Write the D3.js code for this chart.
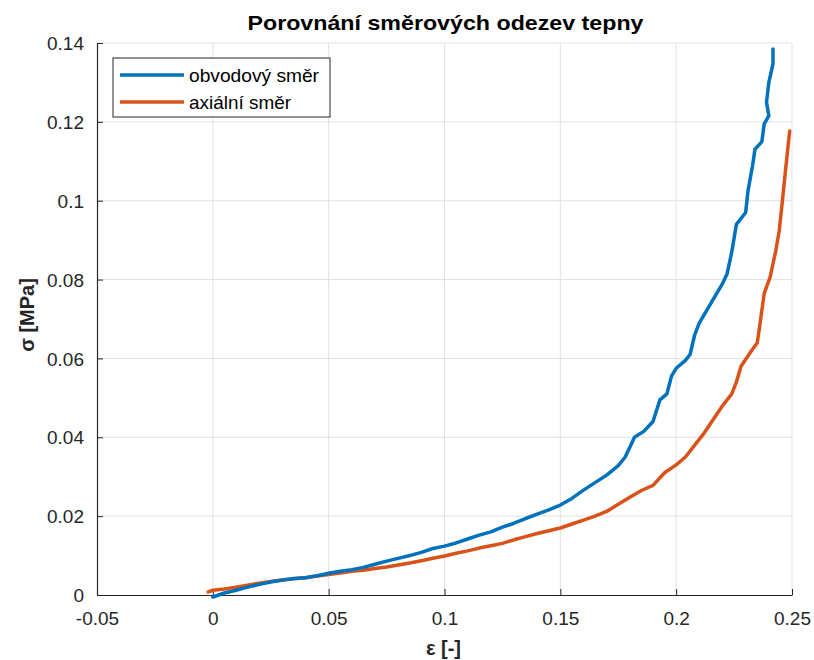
<!DOCTYPE html>
<html><head><meta charset="utf-8">
<script src="https://cdn.jsdelivr.net/npm/d3@7"></script>
<style>
body{margin:0;background:#fff;}
text{font-family:"Liberation Sans",Arial,Helvetica,sans-serif;}
</style></head>
<body>
<svg id="chart" width="814" height="660"></svg>
<script>
const seriesNames = ["obvodový směr", "axiální směr"];
const seriesColors = ["#0072BD", "#D95319"];
const xTicks = [-0.05, 0, 0.05, 0.1, 0.15, 0.2, 0.25];
const yTicks = [0, 0.02, 0.04, 0.06, 0.08, 0.1, 0.12, 0.14];

// obvodový směr (circumferential) : [strain, stress MPa]
const strainCirc = [0,0.005,0.01,0.015,0.02,0.025,0.03,0.035,0.04,0.045,0.05,0.055,0.06,0.065,0.07,0.075,0.08,0.085,0.09,0.095,0.1,0.105,0.11,0.115,0.12,0.125,0.13,0.135,0.14,0.145,0.15,0.155,0.16,0.165,0.17,0.175,0.178,0.18,0.182,0.186,0.19,0.193,0.196,0.198,0.2,0.204,0.206,0.208,0.21,0.213,0.217,0.22,0.222,0.224,0.226,0.23,0.231,0.233,0.234,0.237,0.238,0.24,0.239,0.24,0.2418,0.2418];
const stressCirc = [-0.0005,0.0005,0.0012,0.002,0.0027,0.0033,0.0038,0.0042,0.0044,0.0049,0.0055,0.006,0.0064,0.007,0.0078,0.0086,0.0093,0.01,0.0108,0.0118,0.0124,0.0132,0.0142,0.0152,0.016,0.0172,0.0182,0.0194,0.0205,0.0216,0.0228,0.0245,0.0266,0.0285,0.0304,0.0328,0.035,0.0375,0.04,0.0415,0.044,0.0495,0.051,0.0555,0.0575,0.0595,0.061,0.066,0.069,0.072,0.076,0.079,0.0815,0.087,0.094,0.097,0.1025,0.109,0.113,0.115,0.1195,0.1215,0.125,0.13,0.1347,0.1385];

// axiální směr (axial)
const strainAx = [-0.002,0,0.005,0.01,0.015,0.02,0.025,0.03,0.035,0.04,0.045,0.05,0.055,0.06,0.065,0.07,0.075,0.08,0.085,0.09,0.095,0.1,0.105,0.11,0.115,0.12,0.125,0.13,0.135,0.14,0.145,0.15,0.155,0.16,0.165,0.17,0.175,0.18,0.185,0.19,0.195,0.2,0.204,0.208,0.212,0.216,0.22,0.224,0.226,0.228,0.232,0.235,0.236,0.238,0.2405,0.243,0.2445,0.246,0.2475,0.249];
const stressAx = [0.0008,0.0012,0.0015,0.002,0.0025,0.003,0.0034,0.0038,0.0041,0.0044,0.0048,0.0052,0.0056,0.006,0.0063,0.0067,0.0071,0.0076,0.0081,0.0087,0.0093,0.0099,0.0106,0.0112,0.0119,0.0125,0.0131,0.014,0.0148,0.0156,0.0163,0.017,0.018,0.019,0.02,0.0212,0.023,0.0248,0.0265,0.0278,0.031,0.033,0.035,0.038,0.041,0.0445,0.048,0.051,0.054,0.058,0.0615,0.064,0.068,0.0765,0.0805,0.0873,0.0924,0.1008,0.1094,0.1177];

const svg = d3.select("#chart");
const L = 97, R = 792, T = 43, B = 595;
const x = d3.scaleLinear().domain([-0.05, 0.25]).range([L, R]);
const y = d3.scaleLinear().domain([0, 0.14]).range([B, T]);
const fmt = d => d === 0 ? "0" : String(+d.toFixed(2));

// grid
const g = svg.append("g");
g.selectAll(".gx").data(xTicks.slice(1)).enter().append("line")
  .attr("x1", d => x(d)).attr("x2", d => x(d)).attr("y1", T).attr("y2", B)
  .attr("stroke", "#e1e1e1").attr("stroke-width", 1);
g.selectAll(".gy").data(yTicks.slice(1)).enter().append("line")
  .attr("x1", L).attr("x2", R).attr("y1", d => y(d)).attr("y2", d => y(d))
  .attr("stroke", "#e1e1e1").attr("stroke-width", 1);

// axes (ticks inward)
const xAxis = d3.axisBottom(x).tickValues(xTicks).tickFormat(fmt).tickSizeInner(-6).tickSizeOuter(0).tickPadding(17);
const yAxis = d3.axisLeft(y).tickValues(yTicks).tickFormat(fmt).tickSizeInner(-6).tickSizeOuter(0).tickPadding(13);
const gx = svg.append("g").attr("transform", `translate(0,${B})`).call(xAxis);
const gy = svg.append("g").attr("transform", `translate(${L},0)`).call(yAxis);
[gx, gy].forEach(a => {
  a.select(".domain").attr("stroke", "#262626").attr("stroke-width", 1.2);
  a.selectAll(".tick line").attr("stroke", "#262626");
  a.selectAll(".tick text").attr("fill", "#262626").style("font-size", "19px")
    .style("font-family", "'Liberation Sans', Arial, sans-serif");
});
gx.selectAll(".tick text").attr("dy", "0.71em");
gy.selectAll(".tick text").attr("dy", "0.35em");

// lines
const line = d3.line().x(d => x(d[0])).y(d => y(d[1]));
const series = [
  d3.zip(strainCirc, stressCirc),
  d3.zip(strainAx, stressAx)
];
[1, 0].forEach(i => {
  svg.append("path").datum(series[i]).attr("d", line)
    .attr("fill", "none").attr("stroke", seriesColors[i])
    .attr("stroke-width", 3.5).attr("stroke-linejoin", "round").attr("stroke-linecap", "round");
});

// title & labels
svg.append("text").attr("x", (L + R) / 2 + 1).attr("y", 30).attr("text-anchor", "middle")
  .style("font-size", "21px").style("font-weight", "bold").attr("fill", "#000")
  .attr("textLength", 396).attr("lengthAdjust", "spacingAndGlyphs")
  .text("Porovnání směrových odezev tepny");
svg.append("text").attr("x", (L + R) / 2 - 1).attr("y", 655).attr("text-anchor", "middle")
  .style("font-size", "20px").style("font-weight", "bold").attr("fill", "#262626")
  .text("ε [-]");
svg.append("text").attr("transform", `translate(34,${(T + B) / 2 - 4}) rotate(-90)`)
  .attr("text-anchor", "middle")
  .style("font-size", "20px").style("font-weight", "bold").attr("fill", "#262626")
  .text("σ [MPa]");

// legend
const legendWidths = [130, 102];
const lg = svg.append("g");
lg.append("rect").attr("x", 113).attr("y", 58).attr("width", 217).attr("height", 59)
  .attr("fill", "#fff").attr("stroke", "#262626").attr("stroke-width", 1);
seriesNames.forEach((n, i) => {
  const yy = 75 + i * 27;
  lg.append("line").attr("x1", 120).attr("x2", 184).attr("y1", yy).attr("y2", yy)
    .attr("stroke", seriesColors[i]).attr("stroke-width", 3.5);
  lg.append("text").attr("x", 189).attr("y", yy).attr("dy", "0.35em")
    .style("font-size", "19px").attr("fill", "#000")
    .attr("textLength", legendWidths[i]).attr("lengthAdjust", "spacingAndGlyphs")
    .text(n);
});
</script>
</body></html>
